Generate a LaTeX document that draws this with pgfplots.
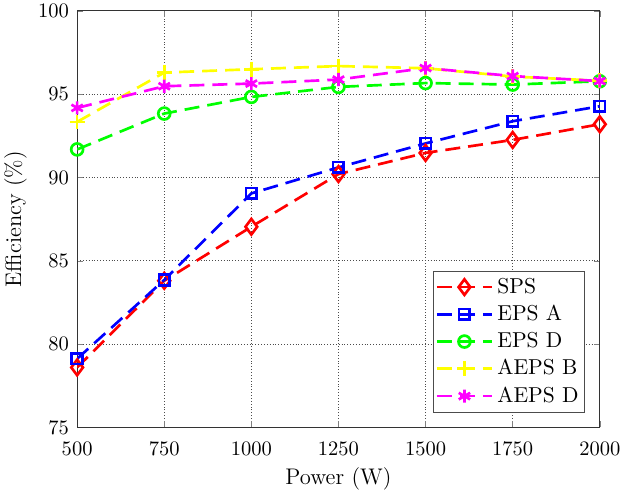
\documentclass[border=0pt]{standalone}
\usepackage{pgfplots}
\pgfplotsset{compat=1.18}
\definecolor{mred}{rgb}{1,0,0}
\definecolor{mblue}{rgb}{0,0,1}
\definecolor{mgreen}{rgb}{0,1,0}
\definecolor{myellow}{rgb}{1,1,0}
\definecolor{mmagenta}{rgb}{1,0,1}
\begin{document}
\begin{tikzpicture}
\begin{axis}[
  scale only axis,
  width=254.6pt, height=203pt,
  xmin=500, xmax=2000, ymin=75, ymax=100,
  xtick={500,750,...,2000}, ytick={75,80,...,100},
  xticklabel style={/pgf/number format/1000 sep=, yshift=-3.5pt, inner xsep=1.8pt},
  yticklabel style={xshift=-0.5pt, inner ysep=2pt},
  scaled x ticks=false,
  tick align=inside,
  xtick pos=both, ytick pos=both,
  major tick length=3pt,
  grid=major,
  major grid style={densely dotted, black!70, line width=0.5pt},
  axis line style={black!80, line width=0.5pt},
  label style={font=\fontsize{11}{13}\selectfont},
  xlabel={Power (W)}, ylabel={Efficiency (\%)},
  xlabel style={inner sep=1.5pt, yshift=-1pt},
  ylabel style={inner sep=2pt, yshift=0pt},
  legend style={at={(1,0)}, anchor=south east, xshift=-7.3pt, yshift=7.2pt,
    draw=black!70, line width=0.5pt, font=\fontsize{10.5}{12}\selectfont, row sep=2.3pt,
    cells={anchor=west}, inner xsep=0.8pt, inner ysep=2.3pt,
    nodes={inner xsep=2pt, inner ysep=1pt}},
  legend image code/.code={\draw[mark repeat=2,mark phase=2] plot coordinates {(0pt,0pt) (13.4pt,0pt) (26.8pt,0pt)};},
  every axis plot/.append style={line width=1.3pt, dash pattern=on 7.3pt off 3.9pt, mark options={solid}},
]
\addplot[mred, mark=diamond, mark size=3.8pt] coordinates {
 (500,78.6) (750,83.8) (1000,87.04) (1250,90.2) (1500,91.47) (1750,92.25) (2000,93.19)};
\addlegendentry{SPS}
\addplot[mblue, mark=square, mark size=2.6pt] coordinates {
 (500,79.12) (750,83.85) (1000,89.04) (1250,90.6) (1500,92.04) (1750,93.37) (2000,94.27)};
\addlegendentry{EPS A}
\addplot[mgreen, mark=o, mark size=2.9pt] coordinates {
 (500,91.68) (750,93.83) (1000,94.83) (1250,95.43) (1500,95.66) (1750,95.57) (2000,95.77)};
\addlegendentry{EPS D}
\addplot[myellow, mark=+, mark size=3.6pt] coordinates {
 (500,93.33) (750,96.29) (1000,96.49) (1250,96.68) (1500,96.55) (1750,96.05) (2000,95.8)};
\addlegendentry{AEPS B}
\addplot[mmagenta, mark=asterisk, mark size=3.2pt] coordinates {
 (500,94.17) (750,95.47) (1000,95.63) (1250,95.87) (1500,96.56) (1750,96.08) (2000,95.78)};
\addlegendentry{AEPS D}
\end{axis}
\end{tikzpicture}
\end{document}
